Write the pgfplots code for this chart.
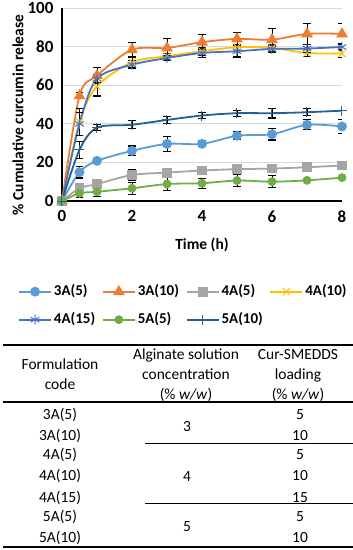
\documentclass[border=0pt]{standalone}
\usepackage{pgfplots}
\pgfplotsset{compat=1.18}
\usepackage{pgfplotstable}
\usepackage{fontspec}
\setmainfont{Carlito}
\usetikzlibrary{plotmarks}
\definecolor{cA}{HTML}{5B9BD5}
\definecolor{cB}{HTML}{ED7D31}
\definecolor{cC}{HTML}{A5A5A5}
\definecolor{cD}{HTML}{FFC000}
\definecolor{cE}{HTML}{4472C4}
\definecolor{cF}{HTML}{70AD47}
\definecolor{cG}{HTML}{255E91}
\definecolor{gridc}{HTML}{D9D9D9}

\pgfplotstableread{
t y e
0 0 0
0.5 14.9 3
1 20.8 1
2 26 2.5
3 29.6 4
4 29.6 1.5
5 33.8 2
6 34.6 3
7 39.5 2.5
8 38.6 3.5
}\tA
\pgfplotstableread{
t y e
0 0 0
0.5 54.5 1.5
1 65 4
2 78.4 3.5
3 79.3 5
4 82.3 4
5 84 3.5
6 83.6 6
7 86.6 5.5
8 86.6 5.5
}\tB
\pgfplotstableread{
t y e
0 0 0
0.5 6.6 1
1 8.8 1
2 13.5 3
3 14.7 2
4 15.8 1
5 16.5 1
6 16.8 1
7 17.5 0.8
8 18.4 0.8
}\tC
\pgfplotstableread{
t y e
0 0 0
0.5 41 7
1 59.4 5
2 71.9 2.5
3 75 1.5
4 77.6 2
5 79.7 1.5
6 79.3 2
7 76.7 2
8 76.4 2
}\tD
\pgfplotstableread{
t y e
0 0 0
0.5 40 6
1 63.4 2
2 70.6 2
3 74.1 1.5
4 76.7 2.5
5 77.6 3
6 78.8 2
7 79 2
8 79.8 2
}\tE
\pgfplotstableread{
t y e
0 0 0
0.5 4 2
1 4.8 2.5
2 6.6 3
3 8.8 3.5
4 9.2 2.5
5 10.6 3
6 10 3
7 10.7 0
8 12.1 0
}\tF
\pgfplotstableread{
t y e
0 0 0
0.5 26.5 4.5
1 38 1.5
2 39.5 2
3 42 2
4 44.3 1.5
5 45.5 1.5
6 45.5 2.5
7 46 1.8
8 46.8 0
}\tG

\begin{document}
\begin{tikzpicture}[x=1pt,y=1pt]
\path[use as bounding box] (0pt,0pt) rectangle (353pt,550pt);
\begin{axis}[
  at={(62pt,349pt)}, anchor=south west,
  scale only axis, width=280pt, height=193pt,
  xmin=0, xmax=8, ymin=0, ymax=100,
  xtick={0,2,4,6,8}, ytick={0,20,40,60,80,100},
  axis lines=left,
  axis line style={-, line width=1.5pt, black},
  major tick length=0pt,
  ymajorgrids, grid style={gridc, line width=0.9pt},
  /pgf/number format/assume math mode=true,
  ticklabel style={font=\bfseries\fontsize{17}{17}\selectfont},
  xticklabel style={yshift=-6pt},
  yticklabel style={xshift=-5pt},
  xlabel={Time (h)},
  xlabel style={at={(rel axis cs:0.5,-0.228)}, anchor=center, font=\bfseries\fontsize{15.5}{15.5}\selectfont},
  ylabel={\% Cumulative curcumin release},
  ylabel style={at={(rel axis cs:-0.157,0.446)}, anchor=center, font=\bfseries\fontsize{15.5}{15.5}\selectfont},
  legend style={at={(rel axis cs:-0.168,-0.4145)}, anchor=north west, draw=none, fill=none,
    font=\bfseries\fontsize{15}{15}\selectfont,
    nodes={inner sep=1pt, text height=11pt, text depth=4pt},
    row sep=11pt, column sep=1pt},
  legend columns=4,
  legend cell align=left,
  legend image code/.code={\draw[#1, mark repeat=2, mark phase=2] plot coordinates {(0pt,0pt) (16pt,0pt) (32pt,0pt)};},
  every axis plot/.append style={line width=1.8pt, smooth, tension=0.5,
    error bars/y dir=both, error bars/y explicit,
    error bars/error bar style={black, line width=0.9pt, solid},
    error bars/error mark options={black, rotate=90, mark size=3.8pt, line width=1.1pt}},
]
\addplot[cA, mark=*, mark size=4pt, mark options={solid, fill=cA, draw=cA}] table[x=t,y=y,y error=e]{\tA};
\addlegendentry{\makebox[46pt][l]{3A(5)}}
\addplot[cB, mark=triangle*, mark size=5pt, mark options={solid, fill=cB, draw=cB}] table[x=t,y=y,y error=e]{\tB};
\addlegendentry{\makebox[46pt][l]{3A(10)}}
\addplot[cC, mark=square*, mark size=4pt, mark options={solid, fill=cC, draw=cC}] table[x=t,y=y,y error=e]{\tC};
\addlegendentry{\makebox[46pt][l]{4A(5)}}
\addplot[cD, mark=x, mark size=5pt, mark options={solid, draw=cD, line width=1pt}] table[x=t,y=y,y error=e]{\tD};
\addlegendentry{\makebox[46pt][l]{4A(10)}}
\addplot[cE, mark=asterisk, mark size=5pt, mark options={solid, draw=cE, line width=1pt}] table[x=t,y=y,y error=e]{\tE};
\addlegendentry{\makebox[46pt][l]{4A(15)}}
\addplot[cF, mark=*, mark size=3.5pt, mark options={solid, fill=cF, draw=cF}] table[x=t,y=y,y error=e]{\tF};
\addlegendentry{\makebox[46pt][l]{5A(5)}}
\addplot[cG, mark=+, mark size=5pt, mark options={solid, draw=cG, line width=1pt}] table[x=t,y=y,y error=e]{\tG};
\addlegendentry{\makebox[46pt][l]{5A(10)}}
\end{axis}

% table
\tikzset{tb/.style={font=\fontsize{15.5}{15.5}\selectfont, anchor=base, inner sep=0pt}}
\draw[line width=1.3pt] (3,550-345) -- (353,550-345);
\draw[line width=1.3pt] (3,550-402) -- (353,550-402);
\draw[line width=1pt] (145,550-444) -- (353,550-444);
\draw[line width=1pt] (145,550-504) -- (353,550-504);
\draw[line width=1.3pt] (3,550-547) -- (353,550-547);
\node[tb] at (60,550-370) {Formulation};
\node[tb] at (60,550-390) {code};
\node[tb] at (186,550-360) {Alginate solution};
\node[tb] at (186,550-380) {concentration};
\node[tb] at (186,550-400) {(\% \textit{w/w})};
\node[tb] at (298,550-360) {Cur-SMEDDS};
\node[tb] at (298,550-380) {loading};
\node[tb] at (298,550-400) {(\% \textit{w/w})};
\node[tb] at (60,550-420) {3A(5)};
\node[tb] at (60,550-440) {3A(10)};
\node[tb] at (60,550-460) {4A(5)};
\node[tb] at (60,550-481) {4A(10)};
\node[tb] at (60,550-502) {4A(15)};
\node[tb] at (60,550-522) {5A(5)};
\node[tb] at (60,550-542) {5A(10)};
\node[tb] at (187,550-432) {3};
\node[tb] at (187,550-482) {4};
\node[tb] at (187,550-532) {5};
\node[tb] at (300,550-420) {5};
\node[tb] at (300,550-440) {10};
\node[tb] at (300,550-460) {5};
\node[tb] at (300,550-481) {10};
\node[tb] at (300,550-502) {15};
\node[tb] at (300,550-522) {5};
\node[tb] at (300,550-542) {10};
\end{tikzpicture}
\end{document}
